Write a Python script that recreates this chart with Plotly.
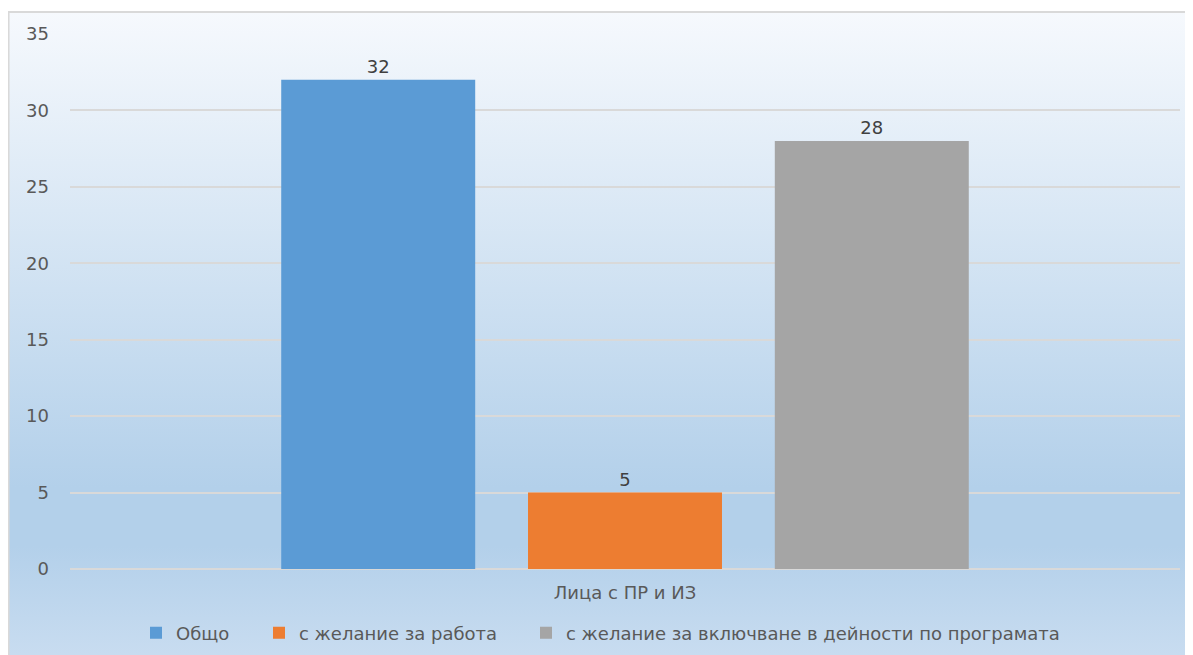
import plotly.graph_objects as go
import urllib.parse

categories = ["Лица с ПР и ИЗ"]
series_names = ["Общо", "с желание за работа", "с желание за включване в дейности по програмата"]
series_values = [[32], [5], [28]]
series_colors = ["#5b9bd5", "#ed7d31", "#a5a5a5"]
y_ticks = [0, 5, 10, 15, 20, 25, 30, 35]

FONT = "DejaVu Sans"
FS = 18

# figure is drawn at page offset (8, 8) because of the body margin
W, H = 1185, 647
L, R, T, B = 62, 1172, 26, 561
pw, ph = R - L, B - T

legend_ids = ["legend", "legend2", "legend3"]
legend_text_x = [168, 291, 558]  # where each legend entry's text starts (px)

fig = go.Figure()
for name, vals, col, lg in zip(series_names, series_values, series_colors, legend_ids):
    fig.add_trace(go.Bar(
        x=categories, y=vals, name=name, legend=lg,
        marker=dict(color=col, line=dict(width=0)),
        text=[str(v) for v in vals], textposition="outside",
        textfont=dict(family=FONT, size=FS, color="#404040"),
        cliponaxis=False,
    ))

x0p = (0 - L) / pw
x1p = (W - L) / pw
y1p = (B - 4) / ph
y0p = (B - H) / ph

svg = ('<svg xmlns="http://www.w3.org/2000/svg" width="100" height="100" preserveAspectRatio="none">'
       '<defs><linearGradient id="g" x1="0" y1="0" x2="0" y2="1">'
       '<stop offset="0" stop-color="#f6f9fd"/>'
       '<stop offset="0.74" stop-color="#b3d0ea"/>'
       '<stop offset="0.83" stop-color="#b3d0ea"/>'
       '<stop offset="1" stop-color="#c8dcf0"/>'
       '</linearGradient></defs>'
       '<rect width="100" height="100" fill="url(#g)"/></svg>')
src = "data:image/svg+xml;charset=utf-8," + urllib.parse.quote(svg)

fig.add_layout_image(dict(
    source=src, xref="paper", yref="paper",
    x=x0p, y=y1p, sizex=x1p - x0p, sizey=y1p - y0p,
    xanchor="left", yanchor="top", sizing="stretch", layer="below",
))
fig.add_shape(type="line", xref="paper", yref="paper",
              x0=x0p, x1=x1p, y0=y1p, y1=y1p,
              line=dict(color="#d9d9d9", width=2), layer="below")
fig.add_shape(type="line", xref="paper", yref="paper",
              x0=x0p + 0.0005, x1=x0p + 0.0005, y0=y0p, y1=y1p,
              line=dict(color="#d9d9d9", width=2), layer="below")

legend_style = dict(orientation="h", xanchor="left", xref="container",
                    y=22 / H, yanchor="middle", yref="container",
                    font=dict(family=FONT, size=FS, color="#595959"),
                    bgcolor="rgba(0,0,0,0)", itemwidth=30)
legends = {lg: dict(legend_style, x=(tx - 40) / W) for lg, tx in zip(legend_ids, legend_text_x)}

fig.update_layout(
    width=W, height=H,
    margin=dict(l=L, r=W - R, t=T, b=H - B),
    paper_bgcolor="white",
    plot_bgcolor="rgba(0,0,0,0)",
    barmode="group",
    bargap=0.333,
    bargroupgap=0.214,
    showlegend=True,
    font=dict(family=FONT, color="#595959"),
    xaxis=dict(showgrid=False, showline=False, ticks="", ticklabelstandoff=11,
               tickfont=dict(family=FONT, size=FS, color="#595959")),
    yaxis=dict(range=[0, 35], tickvals=y_ticks, showgrid=True, gridcolor="#d9d9d9",
               gridwidth=1.5, zeroline=True, zerolinecolor="#d9d9d9", zerolinewidth=1.5,
               showline=False, ticks="", ticklabelstandoff=20,
               tickfont=dict(family=FONT, size=FS, color="#595959")),
    **legends,
)

fig.write_html("out.html")
